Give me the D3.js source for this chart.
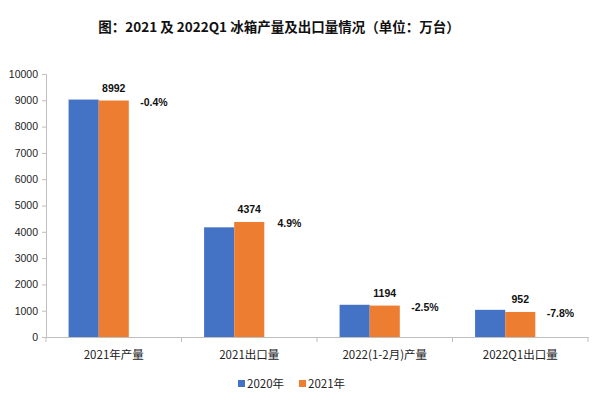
<!DOCTYPE html>
<html><head><meta charset="utf-8">
<script src="https://cdn.jsdelivr.net/npm/d3@7"></script>
<style>body{margin:0;background:#fff}</style>
</head><body>
<svg id="c" width="600" height="400"></svg>
<script>
const categories = ["2021年产量", "2021出口量", "2022(1-2月)产量", "2022Q1出口量"];
const seriesNames = ["2020年", "2021年"];
const values2020 = [9028, 4170, 1225, 1033];
const values2021 = [8992, 4374, 1194, 952];
const growthLabels = ["-0.4%", "4.9%", "-2.5%", "-7.8%"];
const yTicks = [0,1000,2000,3000,4000,5000,6000,7000,8000,9000,10000];
const colors = ["#4472C4", "#ED7D31"];

const svg = d3.select("#c");
const m = {left: 46, right: 12, top: 74, bottom: 63};
const W = 600, H = 400;
const x0 = d3.scaleBand().domain(categories).range([m.left, W - m.right]).paddingInner(1/3).paddingOuter(1/6);
const x1 = d3.scaleBand().domain(["a","b","c"]).range([0, x0.bandwidth()]);
const y = d3.scaleLinear().domain([0, 10000]).range([H - m.bottom, m.top]);

const num = "'Liberation Sans', Arial, sans-serif";
const cjk = "'Noto Sans CJK SC', sans-serif";

svg.append("text").attr("x", 279).attr("y", 32).attr("text-anchor","middle")
  .attr("font-family", cjk).attr("font-weight","bold").attr("font-size", 13.5).attr("fill","#111")
  .text("图：2021 及 2022Q1 冰箱产量及出口量情况（单位：万台）");

// Y axis
const ya = svg.append("g").attr("transform", `translate(${m.left},0)`)
  .call(d3.axisLeft(y).tickValues(yTicks).tickSize(4).tickPadding(4).tickFormat(d3.format("d")));
ya.select(".domain").attr("stroke","#bfbfbf");
ya.selectAll(".tick line").attr("stroke","#bfbfbf");
ya.selectAll("text").attr("font-family", num).attr("font-size", 10.5).attr("fill","#222");

// X axis
const xa = svg.append("g").attr("transform", `translate(0,${y(0)})`)
  .call(d3.axisBottom(x0).tickSize(0).tickPadding(14));
xa.select(".domain").attr("stroke","#bfbfbf");
xa.selectAll("text").attr("font-family", cjk).attr("font-size", 11.5).attr("fill","#222");
const bounds = categories.map(c => x0(c) - x0.step()*x0.paddingInner()/2).concat([W - m.right]);
xa.selectAll(".bnd").data(bounds).enter().append("line")
  .attr("x1", d=>d).attr("x2", d=>d).attr("y1",0).attr("y2",5).attr("stroke","#bfbfbf");

const data = categories.map((c,i)=>({c, v:[values2020[i], values2021[i]], g: growthLabels[i]}));
const grp = svg.append("g").selectAll("g").data(data).enter().append("g")
  .attr("transform", d=>`translate(${x0(d.c)},0)`);
grp.selectAll("rect").data(d=>d.v.map((v,j)=>({v,j}))).enter().append("rect")
  .attr("x", d=>x1(["a","b"][d.j])).attr("width", x1.bandwidth())
  .attr("y", d=>y(d.v)).attr("height", d=>y(0)-y(d.v)).attr("fill", d=>colors[d.j]);
grp.append("text").attr("x", x1("b")+x1.bandwidth()/2).attr("y", d=>y(d.v[1])-9)
  .attr("text-anchor","middle").attr("font-family", num).attr("font-weight","bold")
  .attr("font-size", 10.5).attr("fill","#111").text(d=>d.v[1]);
grp.append("text").attr("x", x1("c")+x1.bandwidth()/2+10).attr("y", d=>y(d.v[1])+5)
  .attr("text-anchor","middle").attr("font-family", num).attr("font-weight","bold")
  .attr("font-size", 10.5).attr("fill","#111").text(d=>d.g);

// Legend
const lg = svg.append("g").attr("transform","translate(0,384)");
const lx = [238, 299];
seriesNames.forEach((s,i)=>{
  lg.append("rect").attr("x", lx[i]).attr("y",-4).attr("width",7).attr("height",7).attr("fill",colors[i]);
  lg.append("text").attr("x", lx[i]+9).attr("y",4).attr("font-family", cjk).attr("font-size",11.5).attr("fill","#222").text(s);
});
</script>
</body></html>
